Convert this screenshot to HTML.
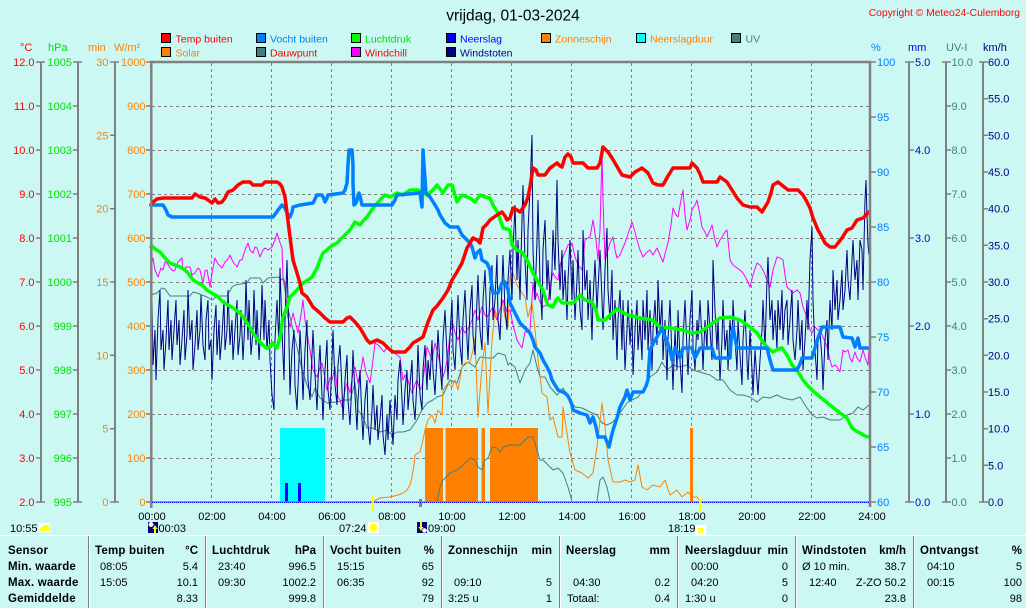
<!DOCTYPE html>
<html><head><meta charset="utf-8"><style>
html,body{margin:0;padding:0;background:#ccf8f4;}
svg{display:block;}
text{font-family:"Liberation Sans",sans-serif;}
</style></head><body>
<svg width="1026" height="608" viewBox="0 0 1026 608" xmlns="http://www.w3.org/2000/svg">
<rect width="1026" height="608" fill="#ccf8f4"/>

<!-- title -->
<text x="513" y="20.5" font-size="15.5" text-anchor="middle" fill="#000">vrijdag, 01-03-2024</text>
<text x="1020" y="16" font-size="10.3" text-anchor="end" fill="#ff0000">Copyright © Meteo24-Culemborg</text>

<!-- legend -->
<g stroke="#000" stroke-width="1">
<rect x="161.5" y="33.5" width="9" height="9" fill="#ff0000"/>
<rect x="256.5" y="33.5" width="9" height="9" fill="#0080ff"/>
<rect x="351.5" y="33.5" width="9" height="9" fill="#00ff00"/>
<rect x="446.5" y="33.5" width="9" height="9" fill="#0000ff"/>
<rect x="541.5" y="33.5" width="9" height="9" fill="#ff8000"/>
<rect x="636.5" y="33.5" width="9" height="9" fill="#00ffff"/>
<rect x="731.5" y="33.5" width="9" height="9" fill="#408080"/>
<rect x="161.5" y="47.5" width="9" height="9" fill="#ff8000"/>
<rect x="256.5" y="47.5" width="9" height="9" fill="#408080"/>
<rect x="351.5" y="47.5" width="9" height="9" fill="#ff00ff"/>
<rect x="446.5" y="47.5" width="9" height="9" fill="#000080"/>
</g>
<g font-size="10.5">
<text x="175.5" y="42.5" fill="#ff0000">Temp buiten</text>
<text x="270" y="42.5" fill="#0080ff">Vocht buiten</text>
<text x="365" y="42.5" fill="#00e000">Luchtdruk</text>
<text x="460" y="42.5" fill="#0000ff">Neerslag</text>
<text x="555" y="42.5" fill="#ff8000">Zonneschijn</text>
<text x="650" y="42.5" fill="#ff8000">Neerslagduur</text>
<text x="745.5" y="42.5" fill="#408080">UV</text>
<text x="175.5" y="56.5" fill="#ff8000">Solar</text>
<text x="270" y="56.5" fill="#ff0000">Dauwpunt</text>
<text x="365" y="56.5" fill="#ff0000">Windchill</text>
<text x="460" y="56.5" fill="#000080">Windstoten</text>
</g>

<!-- axis headers -->
<g font-size="11">
<text x="20" y="51" fill="#ff0000">°C</text>
<text x="48" y="51" fill="#00e000">hPa</text>
<text x="88" y="51" fill="#ff8000">min</text>
<text x="114" y="51" fill="#ff8000">W/m²</text>
<text x="871" y="51" fill="#0080ff">%</text>
<text x="908" y="51" fill="#0000cc">mm</text>
<text x="946" y="51" fill="#408080">UV-I</text>
<text x="983" y="51" fill="#000080">km/h</text>
</g>

<!-- axis lines and ticks -->
<g stroke="#808080" fill="none">
<path stroke-width="2" d="M41 62V502M78 62V502M115 62V502M909 62V502M946 62V502M983 62V502"/>
<path stroke-width="1.5" d="M36 62H45M36 106H41M36 150H41M36 194H41M36 238H41M36 282H41M36 326H41M36 370H41M36 414H41M36 458H41M36 502H45
M73 62H82M73 106H78M73 150H78M73 194H78M73 238H78M73 282H78M73 326H78M73 370H78M73 414H78M73 458H78M73 502H82
M110 62H119M110 135.3H115M110 208.7H115M110 282H115M110 355.3H115M110 428.7H115M110 502H119
M146 62H150M146 106H150M146 150H150M146 194H150M146 238H150M146 282H150M146 326H150M146 370H150M146 414H150M146 458H150M146 502H150
M871 62H876M871 117H876M871 172H876M871 227H876M871 282H876M871 337H876M871 392H876M871 447H876M871 502H876
M905 62H914M909 150H914M909 238H914M909 326H914M909 414H914M905 502H914
M942 62H951M946 106H951M946 150H951M946 194H951M946 238H951M946 282H951M946 326H951M946 370H951M946 414H951M946 458H951M942 502H951
M979 62H988M983 98.7H988M983 135.3H988M983 172H988M983 208.7H988M983 245.3H988M983 282H988M983 318.7H988M983 355.3H988M983 392H988M983 428.7H988M983 465.3H988M979 502H988"/>
</g>

<!-- left axis labels -->
<g font-size="11" text-anchor="end" fill="#ff0000">
<text x="34.5" y="66">12.0</text><text x="34.5" y="110">11.0</text><text x="34.5" y="154">10.0</text><text x="34.5" y="198">9.0</text><text x="34.5" y="242">8.0</text><text x="34.5" y="286">7.0</text><text x="34.5" y="330">6.0</text><text x="34.5" y="374">5.0</text><text x="34.5" y="418">4.0</text><text x="34.5" y="462">3.0</text><text x="34.5" y="506">2.0</text>
</g>
<g font-size="11" text-anchor="end" fill="#00e000">
<text x="72" y="66">1005</text><text x="72" y="110">1004</text><text x="72" y="154">1003</text><text x="72" y="198">1002</text><text x="72" y="242">1001</text><text x="72" y="286">1000</text><text x="72" y="330">999</text><text x="72" y="374">998</text><text x="72" y="418">997</text><text x="72" y="462">996</text><text x="72" y="506">995</text>
</g>
<g font-size="11" text-anchor="end" fill="#ff8000">
<text x="108.5" y="66">30</text><text x="108.5" y="139.3">25</text><text x="108.5" y="212.7">20</text><text x="108.5" y="286">15</text><text x="108.5" y="359.3">10</text><text x="108.5" y="432.7">5</text><text x="108.5" y="506">0</text>
<text x="145.5" y="66">1000</text><text x="145.5" y="110">900</text><text x="145.5" y="154">800</text><text x="145.5" y="198">700</text><text x="145.5" y="242">600</text><text x="145.5" y="286">500</text><text x="145.5" y="330">400</text><text x="145.5" y="374">300</text><text x="145.5" y="418">200</text><text x="145.5" y="462">100</text><text x="145.5" y="506">0</text>
</g>

<!-- right axis labels -->
<g font-size="11" fill="#0080ff">
<text x="877" y="66">100</text><text x="877" y="121">95</text><text x="877" y="176">90</text><text x="877" y="231">85</text><text x="877" y="286">80</text><text x="877" y="341">75</text><text x="877" y="396">70</text><text x="877" y="451">65</text><text x="877" y="506">60</text>
</g>
<g font-size="11" fill="#0000cc">
<text x="915" y="66">5.0</text><text x="915" y="154">4.0</text><text x="915" y="242">3.0</text><text x="915" y="330">2.0</text><text x="915" y="418">1.0</text><text x="915" y="506">0.0</text>
</g>
<g font-size="11" fill="#408080">
<text x="951.5" y="66">10.0</text><text x="951.5" y="110">9.0</text><text x="951.5" y="154">8.0</text><text x="951.5" y="198">7.0</text><text x="951.5" y="242">6.0</text><text x="951.5" y="286">5.0</text><text x="951.5" y="330">4.0</text><text x="951.5" y="374">3.0</text><text x="951.5" y="418">2.0</text><text x="951.5" y="462">1.0</text><text x="951.5" y="506">0.0</text>
</g>
<g font-size="11" fill="#000080">
<text x="988" y="66">60.0</text><text x="988" y="102.7">55.0</text><text x="988" y="139.3">50.0</text><text x="988" y="176">45.0</text><text x="988" y="212.7">40.0</text><text x="988" y="249.3">35.0</text><text x="988" y="286">30.0</text><text x="988" y="322.7">25.0</text><text x="988" y="359.3">20.0</text><text x="988" y="396">15.0</text><text x="988" y="432.7">10.0</text><text x="988" y="469.3">5.0</text><text x="988" y="506">0.0</text>
</g>

<!-- grid -->
<path stroke="#808080" stroke-width="1" stroke-dasharray="3,3" fill="none" d="M211.5 63V502M271.5 63V502M331.5 63V502M391.5 63V502M451.5 63V502M511.5 63V502M571.5 63V502M631.5 63V502M691.5 63V502M751.5 63V502M811.5 63V502
M152 106.5H869M152 150.5H869M152 194.5H869M152 238.5H869M152 282.5H869M152 326.5H869M152 370.5H869M152 414.5H869M152 458.5H869"/>

<!-- bars -->
<rect x="280" y="428" width="45" height="74" fill="#00ffff"/>
<rect x="285" y="483" width="3" height="19" fill="#0000ff"/>
<rect x="298" y="483" width="3" height="19" fill="#0000ff"/>
<g fill="#ff8000">
<rect x="425" y="428" width="18" height="74"/>
<rect x="445.5" y="428" width="32.5" height="74"/>
<rect x="481.5" y="428" width="3.5" height="74"/>
<rect x="490" y="428" width="48" height="74"/>
<rect x="690" y="428" width="3" height="74"/>
</g>

<!-- thin series -->
<g fill="none" stroke-width="1" stroke-linejoin="round">
<!-- dauwpunt -->
<polyline stroke="#408080" points="151,295 157,293 162,288 165,289 170,296 190,296 193,292 197,293 207,297 212,300 217,296 227,296 232,287 235,285 247,283 250,278 260,278 263,283 268,278 278,277 282,280 283,278 285,290 287,305 290,317 293,330 297,347 302,370 307,385 312,397 315,388 320,398 327,403 337,402 343,400 350,400 355,383 358,410 363,417 367,428 373,428 380,432 387,430 392,435 397,432 403,432 410,430 417,420 422,410 427,403 433,400 437,397 443,395 450,380 457,383 462,367 468,362 475,367 480,357 487,358 493,358 498,353 505,355 508,365 510,363 515,367 520,383 525,370 530,363 533,350 537,367 540,377 545,377 550,387 557,395 563,388 568,397 575,407 582,408 590,412 597,415 602,423 607,425 613,422 620,413 627,403 632,400 638,397 645,387 650,377 657,372 662,362 667,370 673,365 680,367 687,365 693,370 703,373 710,375 717,380 723,380 730,390 737,395 743,395 750,397 757,402 763,397 770,398 777,395 783,398 792,400 800,397 805,405 812,415 817,418 823,417 830,420 840,420 847,415 853,413 858,407 863,410 869,405"/>
<!-- UV -->
<polyline stroke="#408080" points="437,501 440,487 443,480 450,473 457,470 463,465 470,458 475,460 478,467 482,470 485,460 488,458 492,447 497,448 500,452 503,447 510,445 520,445 528,437 533,437 537,450 540,460 543,460 548,465 553,470 558,468 563,473 568,487 572,501"/>
<polyline stroke="#408080" points="597,501 600,480 603,477 607,487 610,501"/>
<!-- solar -->
<polyline stroke="#ff8000" points="374,501 380,498 390,497 398,495 403,493 407,490 410,485 412,477 414,465 415,455 420,452 423,440 425,430 428,420 432,415 435,423 438,410 442,415 443,390 448,383 452,387 455,380 458,390 462,367 465,363 470,362 473,350 475,338 478,417 482,367 485,343 488,413 492,340 495,310 498,320 500,330 502,300 505,317 508,327 510,277 513,273 517,285 522,293 525,297 528,317 532,303 535,330 537,350 542,393 547,397 550,420 553,417 558,437 562,437 563,407 567,433 570,453 575,470 582,473 588,478 593,473 597,447 602,403 605,427 608,460 613,482 620,482 625,480 630,482 635,480 638,465 642,487 647,490 653,485 660,487 665,480 670,495 677,490 682,497 688,492 692,497 697,497 700,501"/>
<!-- windchill -->
<polyline stroke="#ff00ff" points="151,253 152,262 153,258 155,270 158,277 161,268 163,270 165,262 167,263 170,268 173,271 175,270 178,262 182,258 183,270 186,267 190,267 192,275 195,273 198,268 200,270 203,283 205,271 207,270 210,287 212,273 215,258 218,264 222,268 225,262 228,259 230,255 233,262 237,267 240,260 242,260 245,250 248,243 250,250 253,253 255,247 257,248 260,257 263,250 265,248 268,250 272,247 275,240 277,233 279,240 282,248 283,277 285,283 287,313 290,327 293,313 296,325 298,333 301,315 303,300 305,320 307,333 310,350 313,370 317,377 320,368 322,363 325,378 327,390 330,378 332,380 335,367 338,397 340,400 342,407 345,390 347,383 350,393 353,372 355,367 358,383 361,370 363,357 366,372 370,383 373,360 375,343 378,345 380,347 384,352 387,347 390,350 393,352 397,355 400,357 403,380 405,375 408,380 410,388 412,393 415,384 417,380 420,390 422,387 425,365 427,347 430,355 432,360 435,343 438,355 440,363 443,377 445,370 447,360 450,335 452,320 455,333 458,340 460,333 462,327 465,333 467,330 470,325 472,320 475,310 478,320 480,313 482,307 485,315 487,317 490,312 493,307 495,315 497,320 500,310 503,300 507,312 510,310 513,325 517,340 520,345 522,348 525,332 528,332 530,330 533,283 535,300 537,293 540,302 543,307 546,305 548,303 550,285 553,273 556,278 558,280 560,265 563,257 566,250 568,245 572,243 575,257 578,265 582,270 585,240 588,238 590,237 593,220 596,240 598,260 600,230 602,153 603,200 605,260 608,250 610,243 613,237 615,250 617,258 620,255 622,250 625,243 627,237 630,228 632,222 635,232 637,240 640,250 643,257 647,252 650,250 653,255 657,248 660,255 663,262 666,250 668,243 671,225 673,208 676,215 678,217 681,200 683,190 685,215 687,230 690,220 692,210 695,205 697,200 700,215 702,227 705,232 707,237 710,230 712,225 715,240 717,247 720,240 722,237 725,232 727,230 730,260 733,265 737,268 740,270 743,273 747,280 750,287 753,275 757,263 760,265 763,270 767,280 770,287 773,270 777,257 780,258 783,260 785,275 787,287 790,290 793,293 797,290 800,293 803,307 806,315 808,320 810,330 812,333 815,327 818,330 820,330 823,337 825,342 827,347 830,360 832,367 835,365 837,367 840,372 843,350 845,352 848,350 850,358 852,362 855,352 857,358 860,362 863,350 866,360 868,365 869,348"/>
<!-- windstoten -->
<polyline stroke="#000080" stroke-linejoin="miter" points="151,340 152,300 153,365 155,330 156,380 158,320 160,290 161,350 163,330 164,370 166,340 168,300 169,350 171,320 172,360 174,330 176,300 177,345 179,320 180,365 182,340 184,310 185,360 187,335 188,290 190,340 192,320 193,370 195,345 197,310 198,350 200,330 201,295 203,345 205,360 206,320 208,300 209,350 211,340 212,380 214,330 216,305 217,355 219,320 220,360 222,335 224,300 225,350 227,330 228,290 230,345 232,320 233,360 235,330 237,300 238,355 240,335 241,310 243,360 245,320 246,280 248,340 249,300 251,355 253,330 254,290 256,345 257,310 259,360 261,325 262,285 264,340 265,300 267,350 269,320 270,360 272,395 274,410 275,340 277,300 279,345 280,268 282,330 284,380 285,320 287,260 289,340 290,395 292,350 294,330 295,385 297,410 299,360 300,330 302,370 303,400 305,350 307,320 308,380 310,400 312,355 313,330 315,375 317,410 318,380 320,345 322,395 323,420 325,370 327,340 328,390 330,410 332,360 333,330 335,385 337,405 338,365 340,345 342,390 343,420 345,380 347,355 348,400 350,425 352,380 353,350 355,395 357,430 358,400 360,370 362,420 363,440 365,400 367,380 368,425 370,445 372,410 373,385 375,430 377,405 378,440 380,420 382,395 383,435 385,455 387,415 388,440 390,400 392,430 393,445 395,395 397,420 398,380 400,360 402,400 403,425 405,390 407,370 408,410 410,385 412,360 413,400 415,420 417,380 418,345 420,395 422,410 423,370 425,345 427,390 428,360 430,380 432,340 433,370 435,395 437,355 438,330 440,365 442,390 443,340 445,310 447,355 448,380 450,335 452,300 453,350 455,370 457,320 458,295 460,345 462,365 463,320 465,290 467,340 468,360 470,310 472,285 473,335 475,355 477,300 478,275 480,330 482,350 483,300 485,270 487,325 488,345 490,290 492,265 493,320 495,300 497,255 498,320 500,340 502,285 503,255 505,310 507,330 508,280 510,250 512,300 513,250 515,205 517,280 518,240 520,300 522,220 523,185 525,260 527,300 528,230 530,190 532,135 533,250 535,300 537,240 538,200 540,280 542,320 543,250 545,220 547,290 548,260 550,300 552,270 553,230 555,270 557,180 558,240 560,290 562,250 563,300 565,270 567,320 568,280 570,240 572,300 573,260 575,320 577,280 578,250 580,310 582,330 583,230 585,290 587,270 588,320 590,280 592,340 593,300 595,260 597,310 598,290 600,250 602,300 603,330 605,270 607,228 608,290 610,320 612,270 613,340 615,300 617,360 618,320 620,290 622,350 623,300 625,370 627,330 628,300 630,345 632,310 633,375 635,330 637,300 638,350 640,320 642,360 643,300 645,340 647,290 648,350 650,310 652,370 653,330 655,300 657,345 658,280 660,330 662,300 663,360 665,320 667,380 668,340 670,300 672,360 673,390 675,330 677,370 678,310 680,360 682,393 683,340 685,300 687,350 688,375 690,320 692,290 693,345 695,370 697,320 698,340 700,300 702,340 703,370 705,320 707,350 708,300 710,330 712,360 713,260 715,310 717,350 718,320 720,380 722,340 723,300 725,350 727,330 728,370 730,320 732,345 733,300 735,340 737,370 738,320 740,355 742,385 743,340 745,310 747,360 748,380 750,330 752,370 753,395 755,350 757,380 758,395 760,360 762,330 763,300 765,350 767,280 768,257 770,320 772,300 773,340 775,310 777,350 778,300 780,330 782,290 783,340 785,310 787,300 788,345 790,320 792,290 793,340 795,360 797,330 798,300 800,350 802,320 803,370 805,340 807,300 808,330 810,260 812,227 813,300 815,350 817,380 818,340 820,330 822,360 823,390 825,340 827,320 828,360 830,300 832,330 833,270 835,310 837,280 838,320 840,300 842,270 843,310 845,290 847,250 848,280 850,300 852,260 853,240 855,280 857,260 858,300 860,240 862,250 863,290 865,200 866,180 867,215 868,245 869,255"/>
</g>

<!-- thick series -->
<g fill="none" stroke-width="3.5" stroke-linejoin="round" stroke-linecap="round">
<polyline stroke="#00ff00" points="151,247 152,246 155,249 160,252 165,258 170,263 175,265 180,267 185,270 188,273 193,280 198,283 202,285 207,290 210,292 217,296 223,302 228,305 233,308 240,313 245,320 250,327 253,333 258,340 262,344 265,347 268,348 271,345 273,343 275,346 277,348 280,337 283,317 287,307 290,297 297,290 303,283 308,280 312,277 317,268 320,260 323,253 327,250 330,247 337,243 343,237 350,230 355,222 360,225 363,221 367,217 373,208 380,200 385,195 390,197 397,193 403,195 410,190 418,190 422,193 427,195 433,190 437,185 440,189 443,193 448,185 452,185 455,195 457,202 462,195 467,197 470,198 475,202 480,195 485,197 490,198 493,205 498,213 503,228 507,229 510,230 512,245 517,250 523,253 528,262 533,273 538,282 543,290 546,300 548,305 553,307 556,300 558,298 561,302 563,303 573,303 577,299 580,295 585,300 592,302 596,310 598,320 602,320 605,320 610,315 617,309 622,312 628,315 640,318 652,320 660,327 670,328 683,330 692,333 700,332 710,325 720,318 730,317 740,320 750,327 757,333 763,342 768,348 773,352 778,349 782,348 787,355 792,365 797,370 803,380 808,386 812,390 820,397 825,401 830,405 835,409 840,413 847,418 852,428 856,431 860,433 865,436 869,437"/>
<polyline stroke="#0080ff" points="151,205 163,205 166,210 168,215 172,217 180,217 273,217 276,213 278,210 282,205 285,208 287,213 290,217 292,212 293,207 300,205 313,203 315,199 317,195 322,195 324,199 325,202 327,198 328,195 343,193 345,190 347,183 348,165 349,150 352,150 353,165 353,183 354,205 356,203 357,200 359,193 360,196 362,205 392,205 395,200 397,195 420,193 421,200 422,207 423,150 424,165 426,193 430,197 435,205 438,210 440,215 445,223 450,227 458,227 460,231 462,235 467,240 470,243 472,247 475,258 477,253 480,250 482,260 487,263 490,270 491,280 493,293 498,293 500,288 502,283 505,282 508,290 510,303 515,313 520,323 525,328 530,333 533,340 535,347 540,353 543,360 547,367 550,373 552,380 555,385 558,390 565,393 568,396 570,400 572,405 573,410 580,413 587,415 590,423 593,417 596,427 598,437 605,437 607,442 609,447 611,438 613,430 617,418 620,407 625,397 627,390 630,400 633,392 643,392 646,386 648,380 649,365 650,350 655,340 657,337 662,328 665,337 668,344 670,350 672,360 675,348 678,353 680,358 683,348 692,348 695,358 698,352 700,348 712,348 715,358 730,358 731,340 733,327 735,338 737,348 767,348 770,360 773,370 797,370 800,364 802,358 812,358 815,348 818,338 822,327 840,327 843,337 852,338 855,347 858,338 860,348 869,348"/>
<polyline stroke="#ff0000" points="151,205 153,202 157,199 163,198 180,198 192,198 195,194 200,197 205,198 208,200 212,203 215,199 218,203 222,202 225,198 228,192 233,190 238,185 243,182 250,182 253,185 262,185 265,182 277,182 280,184 282,187 285,197 287,213 290,237 293,260 297,273 300,283 302,293 307,297 310,302 313,307 320,313 325,318 330,322 343,322 347,318 350,317 355,322 360,328 363,333 367,340 370,343 377,340 383,343 388,348 393,352 405,352 410,347 413,343 418,340 423,337 428,322 433,310 437,306 443,298 448,290 452,280 457,272 462,263 467,248 470,243 473,238 477,240 480,243 483,228 487,224 490,220 497,215 502,212 505,216 507,220 510,218 513,208 517,210 520,212 525,205 528,197 530,187 533,168 536,170 538,175 545,175 550,168 553,166 557,163 560,166 562,167 565,157 568,154 571,157 573,163 583,163 588,168 597,168 600,163 603,147 608,152 612,158 615,163 622,175 630,177 635,172 642,168 648,173 653,183 658,185 663,185 668,176 673,168 690,168 692,163 697,168 700,174 703,182 717,182 720,177 727,182 732,190 737,198 743,205 750,207 757,207 762,212 765,207 768,202 771,193 773,185 778,182 783,186 788,190 798,190 803,195 807,202 810,208 813,218 818,230 822,237 825,243 830,247 835,247 838,243 842,238 847,230 852,228 857,220 863,218 866,215 869,212"/>
</g>

<!-- frame -->
<g stroke="#808080" fill="none">
<path stroke-width="2.5" d="M150 62H871M151.3 61V508M870 61V507"/>
<path stroke-width="1.5" d="M151 502H870"/>
<path stroke-width="3" d="M420.5 499V507"/>
</g>
<path stroke="#0000ff" stroke-width="1" stroke-dasharray="1,1" d="M152 502.5H869"/>
<path stroke="#ffff00" stroke-width="2" d="M373 495V511M700 498V511"/>

<!-- x labels -->
<g font-size="11" text-anchor="middle" fill="#000">
<text x="152" y="520">00:00</text><text x="212" y="520">02:00</text><text x="272" y="520">04:00</text><text x="332" y="520">06:00</text><text x="392" y="520">08:00</text><text x="452" y="520">10:00</text><text x="512" y="520">12:00</text><text x="572" y="520">14:00</text><text x="632" y="520">16:00</text><text x="692" y="520">18:00</text><text x="752" y="520">20:00</text><text x="812" y="520">22:00</text><text x="872" y="520">24:00</text>
</g>

<!-- sun/moon row -->
<g font-size="11" fill="#000">
<text x="10" y="532">10:55</text>
<text x="158.5" y="532">00:03</text>
<text x="339" y="532">07:24</text>
<text x="428" y="532">09:00</text>
<text x="668" y="532">18:19</text>
</g>
<rect x="39" y="523" width="11" height="9" fill="#ffffff"/>
<path d="M40 531 Q40 527 43 527 Q44 524 46 525 Q49 525 49 528 Q50 529 49 531 Z" fill="#ffff00"/>
<rect x="148" y="522" width="10" height="11" fill="#000080"/>
<circle cx="151" cy="524.5" r="2.5" fill="#ffffff"/>
<path d="M155 525 L157.5 529 L156 529 L156 533 L154 533 L154 529 L152.5 529 Z" fill="#ffff00"/>
<rect x="368" y="522" width="11" height="11" fill="#ffffe0"/>
<circle cx="373.5" cy="527.5" r="3.5" fill="#ffff00"/>
<rect x="417" y="522" width="10" height="11" fill="#000080"/>
<path d="M420 522 L422 522 L422 527 L423.5 527 L421 531 L418.5 527 L420 527 Z" fill="#ffff00"/>
<circle cx="424.5" cy="530.5" r="2.3" fill="#ffffff"/>
<rect x="695" y="525" width="11" height="11" fill="#ffffff"/>
<rect x="698.5" y="528.5" width="4" height="4" fill="none" stroke="#ffff00" stroke-width="1"/>

<!-- table -->
<path stroke="#ffffff" stroke-width="1" d="M0 535.5H1026"/>
<g stroke="#808080" stroke-width="1">
<path d="M88.5 536V608M205.5 536V608M323.5 536V608M441.5 536V608M559.5 536V608M677.5 536V608M795.5 536V608M913.5 536V608"/>
</g>
<g stroke="#ffffff" stroke-width="1">
<path d="M89.5 536V608M206.5 536V608M324.5 536V608M442.5 536V608M560.5 536V608M678.5 536V608M796.5 536V608M914.5 536V608"/>
</g>
<g font-size="11.5" font-weight="bold" fill="#000" letter-spacing="0.2">
<text x="8" y="554">Sensor</text>
<text x="8" y="570">Min. waarde</text>
<text x="8" y="586">Max. waarde</text>
<text x="8" y="602">Gemiddelde</text>
<text x="95" y="554">Temp buiten</text>
<text x="212" y="554">Luchtdruk</text>
<text x="330" y="554">Vocht buiten</text>
<text x="448" y="554">Zonneschijn</text>
<text x="566" y="554">Neerslag</text>
<text x="685" y="554">Neerslagduur</text>
<text x="802" y="554">Windstoten</text>
<text x="920" y="554">Ontvangst</text>
</g>
<g font-size="11.5" font-weight="bold" fill="#000" text-anchor="end">
<text x="198" y="554">°C</text>
<text x="316" y="554">hPa</text>
<text x="434" y="554">%</text>
<text x="552" y="554">min</text>
<text x="670" y="554">mm</text>
<text x="788" y="554">min</text>
<text x="906" y="554">km/h</text>
<text x="1022" y="554">%</text>
</g>
<g font-size="11" fill="#000">
<text x="100" y="570">08:05</text><text x="100" y="586">15:05</text>
<text x="218" y="570">23:40</text><text x="218" y="586">09:30</text>
<text x="337" y="570">15:15</text><text x="337" y="586">06:35</text>
<text x="454" y="586">09:10</text><text x="448" y="602">3:25 u</text>
<text x="573" y="586">04:30</text><text x="567" y="602">Totaal:</text>
<text x="691" y="570">00:00</text><text x="691" y="586">04:20</text><text x="685" y="602">1:30 u</text>
<text x="802" y="570">Ø 10 min.</text><text x="809" y="586">12:40</text>
<text x="927" y="570">04:10</text><text x="927" y="586">00:15</text>
</g>
<g font-size="11" fill="#000" text-anchor="end">
<text x="198" y="570">5.4</text><text x="198" y="586">10.1</text><text x="198" y="602">8.33</text>
<text x="316" y="570">996.5</text><text x="316" y="586">1002.2</text><text x="316" y="602">999.8</text>
<text x="434" y="570">65</text><text x="434" y="586">92</text><text x="434" y="602">79</text>
<text x="552" y="586">5</text><text x="552" y="602">1</text>
<text x="670" y="586">0.2</text><text x="670" y="602">0.4</text>
<text x="788" y="570">0</text><text x="788" y="586">5</text><text x="788" y="602">0</text>
<text x="906" y="570">38.7</text><text x="906" y="586">Z-ZO 50.2</text><text x="906" y="602">23.8</text>
<text x="1022" y="570">5</text><text x="1022" y="586">100</text><text x="1022" y="602">98</text>
</g>
</svg>
</body></html>
